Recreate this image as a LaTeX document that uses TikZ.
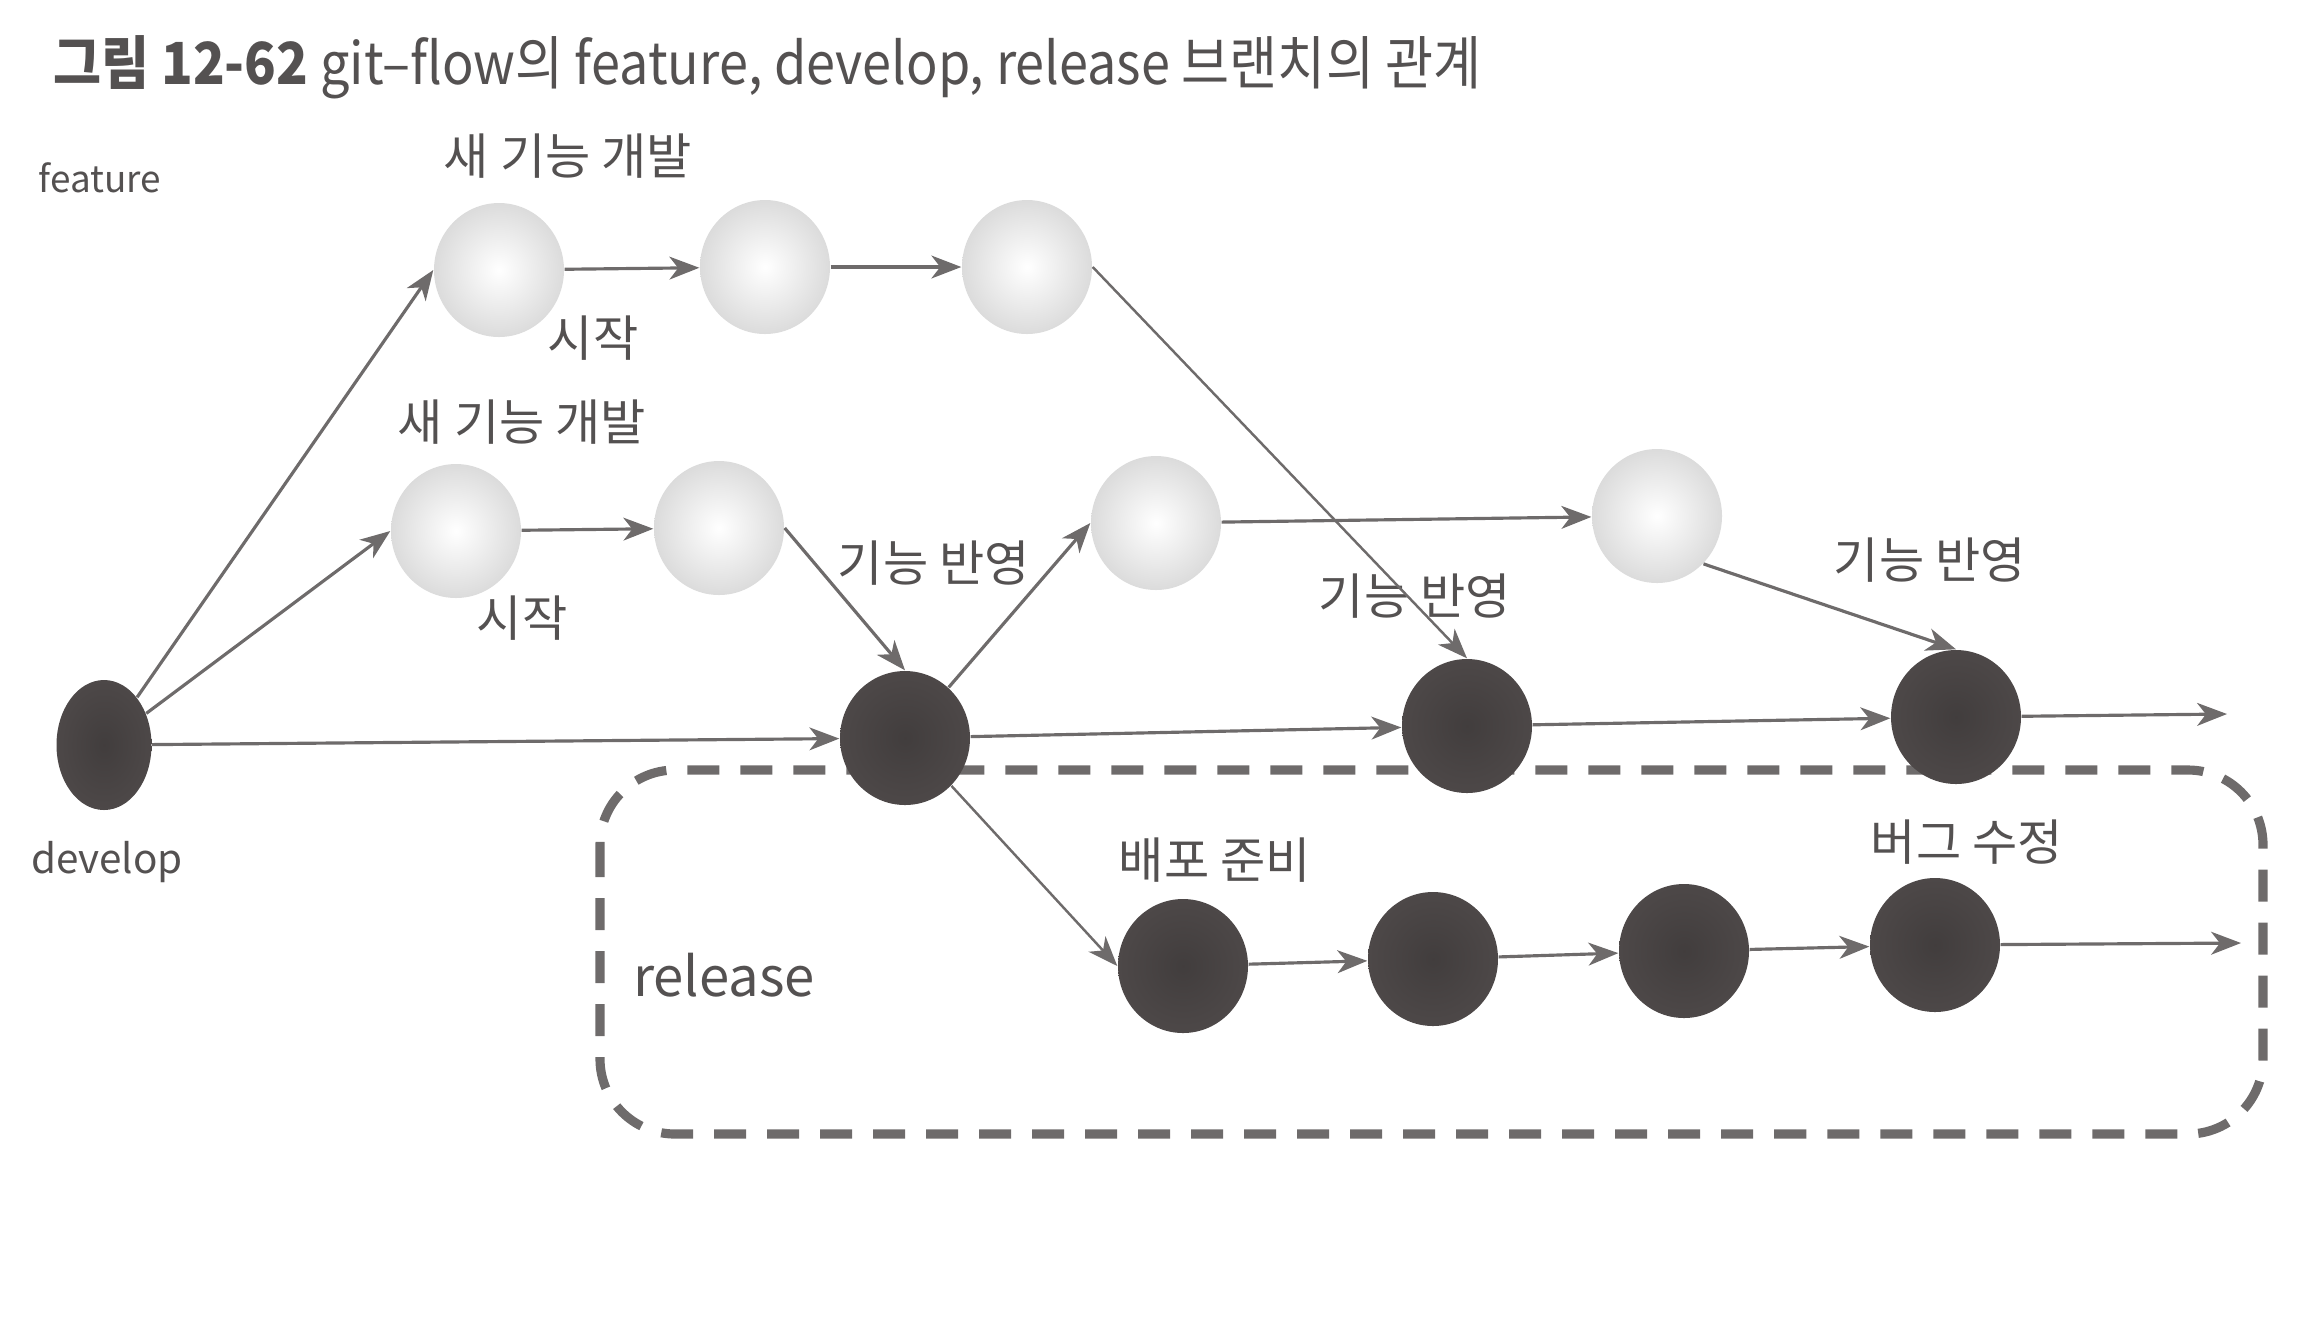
\documentclass[tikz,border=0pt]{standalone}
\usepackage{fontspec}
\setmainfont{Noto Sans CJK KR}
\newfontfamily\titlefont[FakeStretch=0.9]{Noto Sans CJK KR}
\usetikzlibrary{arrows.meta,shapes.geometric}
\definecolor{inkgray}{HTML}{545151}
\definecolor{commitdark}{HTML}{4D4848}
\definecolor{linegray}{HTML}{6E6B6B}

\begin{document}
\begin{tikzpicture}[x=1cm, y=-1cm,
  every node/.style={font=\fontsize{14}{16}\selectfont, text=inkgray},
  feat/.style={ellipse, minimum width=1.30cm, minimum height=1.34cm, inner sep=0pt,
    inner color=white, outer color=black!14},
  dev/.style={ellipse, minimum width=1.30cm, minimum height=1.34cm, inner sep=0pt,
    inner color=commitdark!85!black, outer color=commitdark},
  flow/.style={draw=linegray, line width=.9pt,
    -{Stealth[length=8.5pt, width=6.5pt, inset=2.5pt]}},
  dashbox/.style={draw=linegray, line width=2.6pt, rounded corners=.75cm,
    dash pattern=on .32cm off .21cm}]
  \useasboundingbox (0,0) rectangle (23.24,13.27);

  % title and branch names
  \node[anchor=west, font=\titlefont\fontsize{16.5}{18}\selectfont] (title) at (.41,.67)
    {\textbf{그림 12-62} git–flow의 feature, develop, release 브랜치의 관계};
  \node[font=\fontsize{10.5}{12}\selectfont] (featname) at (1.00,1.78) {feature};
  \node[font=\fontsize{11.5}{13}\selectfont] (devname) at (1.07,8.62) {develop};
  \node[font=\fontsize{15.5}{18}\selectfont] (relname) at (7.24,9.75) {release};

  % release frame
  \draw[dashbox] (6.00,7.70) rectangle (22.63,11.34);

  % commits
  \foreach \n/\x/\y in {F1a/4.99/2.70, F1b/7.65/2.67, F1c/10.27/2.67,
      F2a/4.56/5.31, F2b/7.19/5.28, F2c/11.56/5.23, F2d/16.57/5.16}
    \node[feat] (\n) at (\x,\y) {};
  \node[dev, minimum width=.95cm, minimum height=1.30cm] (D0) at (1.04,7.45) {};
  \foreach \n/\x/\y in {D1/9.05/7.38, D2/14.67/7.26, D3/19.56/7.17,
      R1/11.83/9.66, R2/14.33/9.59, R3/16.84/9.51, R4/19.35/9.45}
    \node[dev] (\n) at (\x,\y) {};
  \coordinate (devEnd) at (22.27,7.14);
  \coordinate (relEnd) at (22.41,9.43);

  % labels
  \node (new1) at (5.68,1.56) {새 기능 개발};
  \node (start1) at (5.93,3.38) {시작};
  \node (new2) at (5.22,4.22) {새 기능 개발};
  \node (start2) at (5.22,6.18) {시작};
  \node (merge1) at (9.34,5.63) {기능 반영};
  \node (merge2) at (14.15,5.96) {기능 반영};
  \node (merge3) at (19.30,5.60) {기능 반영};
  \node (prep) at (12.15,8.60) {배포 준비};
  \node (bugfix) at (19.67,8.42) {버그 수정};

  % connectors
  \draw[flow] (D0) -- (F1a.west);
  \draw[flow] (D0) -- (F2a.west);
  \foreach \a/\b in {D0/D1, F1a/F1b, F1b/F1c, F2a/F2b, F2c/F2d,
      D1/D2, D2/D3, R1/R2, R2/R3, R3/R4}
    \draw[flow] (\a) -- (\b);
  \draw[flow, line width=.7pt] (F1c.east) -- (D2.north);
  \draw[flow] (F2b.east) -- (D1.north);
  \draw[flow] (D1) -- (F2c.west);
  \draw[flow] (F2d.south east) -- (D3.north);
  \draw[flow, line width=.7pt] (D1.south east) -- (R1.west);
  \draw[flow] (D3) -- (devEnd);
  \draw[flow] (R4) -- (relEnd);
\end{tikzpicture}
\end{document}
